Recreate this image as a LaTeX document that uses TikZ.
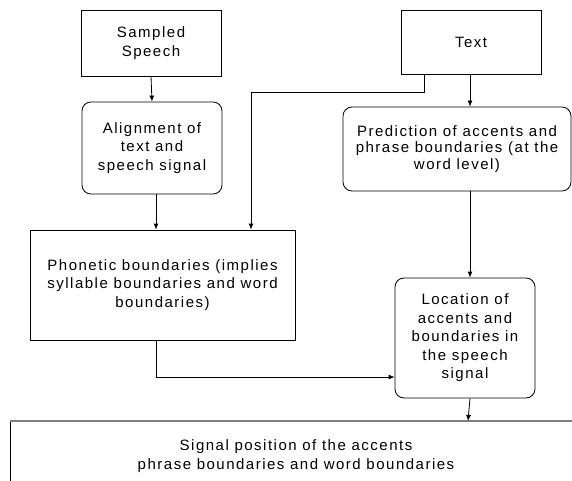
\documentclass[tikz,border=0pt]{standalone}
\usepackage{fontspec}
\setmainfont{Liberation Sans}[LetterSpace=10]
\usetikzlibrary{arrows.meta}
\begin{document}
\begin{tikzpicture}[x=1pt,y=-1pt,
  every node/.style={font=\fontsize{15}{18.5}\selectfont, align=center, inner sep=0pt},
  box/.style={draw, line width=0.8pt},
  rbox/.style={draw, line width=0.8pt, rounded corners=9pt},
  arr/.style={line width=0.8pt, -{Latex[length=6pt,width=5pt]}},
  wire/.style={line width=0.8pt}]
\useasboundingbox (0,0) rectangle (572,481);
\node[box, minimum width=140pt, minimum height=66pt] (ss) at (151,43) {Sampled\\Speech};
\node[rbox, minimum width=140pt, minimum height=92pt] (al) at (152,148) {Alignment of\\text and\\speech signal};
\node[box, minimum width=140pt, minimum height=64pt] (tx) at (471,42) {Text};
\node[rbox, minimum width=228pt, minimum height=84pt, font=\fontsize{15}{16.5}\selectfont] (pr) at (457,149) {Prediction of accents and\\phrase boundaries (at the\\word level)};
\node[box, minimum width=265pt, minimum height=110pt] (ph) at (162.5,285) {Phonetic boundaries (implies\\syllable boundaries and word\\boundaries)};
\node[rbox, minimum width=140pt, minimum height=120pt] (lo) at (465,338) {Location of\\accents and\\boundaries in\\the speech\\signal};
\node (sp) at (296,456) {Signal position of the accents\\phrase boundaries and word boundaries};
\coordinate (k1) at (251,92);
\coordinate (bt) at (468,421);
% bottom box (cut off)
\draw[wire] (10,481) -- (10,421);
\draw[line width=1.2pt, gray] (10,421) -- (572,421);
% connectors
\draw[arr] (ss.south) -- (al.north);
\draw[arr] ([xshift=4pt]al.south) -- ([xshift=4pt]al.south |- ph.north);
\draw[arr] ([xshift=-47pt]tx.south) |- (k1) -- (k1 |- ph.north);
\draw[arr] ([xshift=-1pt]tx.south) -- ([xshift=-1pt]tx.south |- pr.north);
\draw[arr] ([xshift=5pt]lo.north |- pr.south) -- ([xshift=5pt]lo.north);
\draw[arr] ([xshift=-6.5pt]ph.south) |- ([yshift=-39pt]lo.west);
\draw[arr] ([xshift=5pt]lo.south) -- (bt);
\end{tikzpicture}
\end{document}
